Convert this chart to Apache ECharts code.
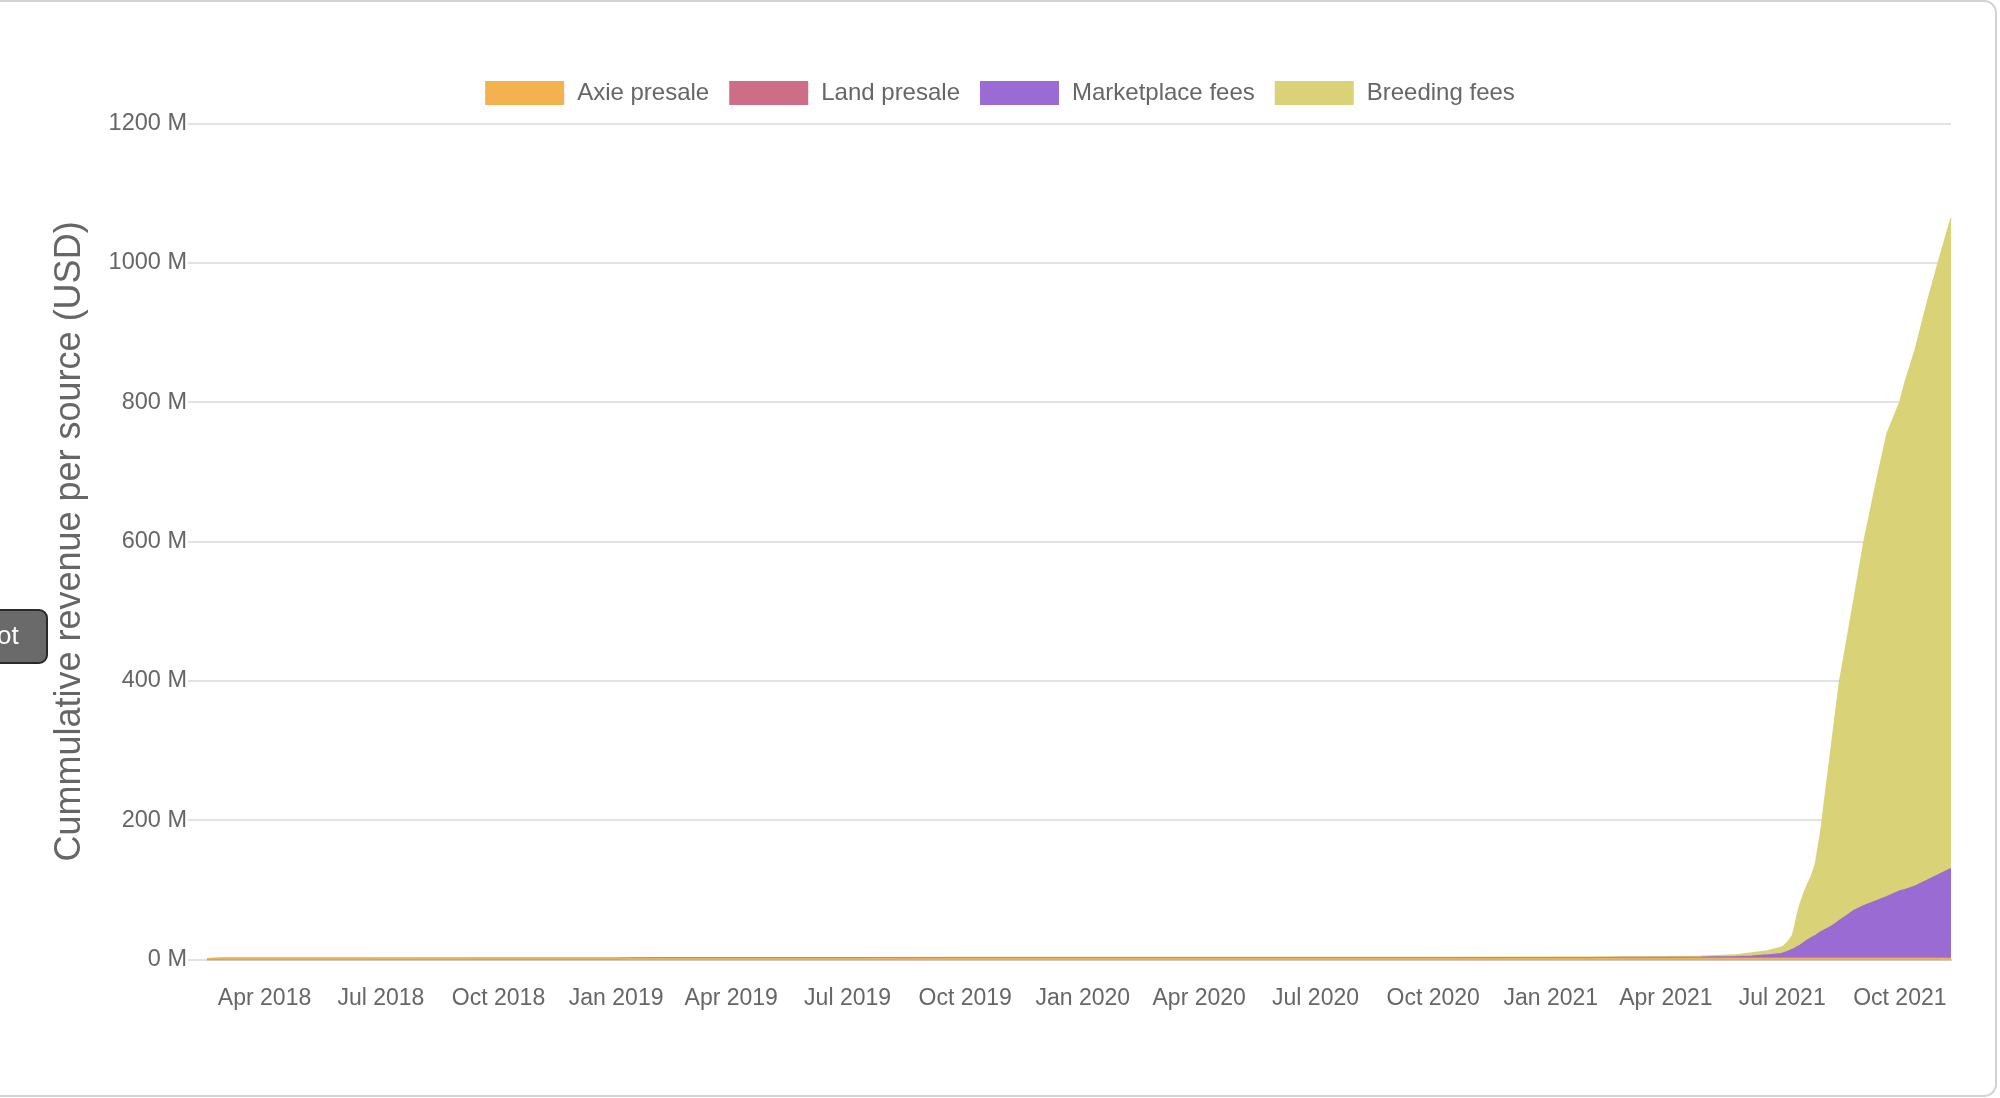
<!DOCTYPE html>
<html>
<head>
<meta charset="utf-8">
<script src="https://cdn.jsdelivr.net/npm/echarts@6/dist/echarts.min.js"></script>
<style>
html,body{margin:0;padding:0;background:#fff;overflow:hidden;}
#chart{width:2000px;height:1098px;}
</style>
</head>
<body>
<div id="chart"></div>
<script>
// ---- data (values in millions of USD, cumulative over time) ----
const dates = [
  '2018-02-15','2018-03-01','2018-04-01','2018-07-01','2018-10-01',
  '2019-01-01','2019-01-20','2019-02-15','2019-04-01','2019-07-01',
  '2019-10-01','2020-01-01','2020-04-01','2020-07-01','2020-10-01',
  '2021-01-01','2021-02-01','2021-03-01','2021-04-01','2021-04-29',
  '2021-05-25','2021-06-07','2021-06-19','2021-06-30','2021-07-02',
  '2021-07-05','2021-07-09','2021-07-11','2021-07-13','2021-07-15',
  '2021-07-18','2021-07-21','2021-07-24','2021-07-27','2021-07-31',
  '2021-08-04','2021-08-09','2021-08-13','2021-08-15','2021-08-20',
  '2021-08-26','2021-09-03','2021-09-13','2021-09-21','2021-10-01',
  '2021-10-05','2021-10-13','2021-10-23','2021-10-31','2021-11-10'
];
const axiePresale = [
  0.9,1.1,1.2,1.2,1.2, 1.2,1.2,1.2,1.2,1.2,
  1.2,1.2,1.2,1.2,1.2, 1.2,1.2,1.2,1.2,1.2,
  1.2,1.2,1.2,1.2,1.2, 1.2,1.2,1.2,1.2,1.2,
  1.2,1.2,1.2,1.2,1.2, 1.2,1.2,1.2,1.2,1.2,
  1.2,1.2,1.2,1.2,1.2, 1.2,1.2,1.2,1.2,1.2
];
const landPresale = [
  0,0,0,0,0, 0,0.5,0.8,0.8,0.8,
  0.8,0.8,0.8,0.8,0.8, 0.8,0.8,0.8,0.8,0.8,
  0.8,0.8,0.8,0.8,0.8, 0.8,0.8,0.8,0.8,0.8,
  0.8,0.8,0.8,0.8,0.8, 0.8,0.8,0.8,0.8,0.8,
  0.8,0.8,0.8,0.8,0.8, 0.8,0.8,0.8,0.8,0.8
];
const marketplaceFees = [
  0,0,0.01,0.03,0.05, 0.08,0.09,0.1,0.12,0.15,
  0.18,0.2,0.22,0.25,0.3, 0.35,0.4,0.45,0.5,0.8,
  1.5,2.5,4,6,7, 9,12,14,16,18,
  22,26,29,32,37, 41,46,51,54,60,
  68,75,82,88,96, 98,103,112,119,128
];
const breedingFees = [
  0,0,0.01,0.05,0.08, 0.1,0.11,0.12,0.15,0.2,
  0.25,0.3,0.35,0.4,0.45, 0.5,0.6,0.8,1.0,1.7,
  2.5,4.5,6,9,10, 13,20,33,48,59,
  71,80,89,103,142, 197,265,319,344,390,
  445,523,604,665,702, 728,770,833,879,934
];
const seriesNames = ['Axie presale','Land presale','Marketplace fees','Breeding fees'];
const seriesColors = ['#F3B24F','#CD6E86','#9A6BD2','#D9D276'];
const xTickDates = [
  '2018-04-01','2018-07-01','2018-10-01','2019-01-01','2019-04-01',
  '2019-07-01','2019-10-01','2020-01-01','2020-04-01','2020-07-01',
  '2020-10-01','2021-01-01','2021-04-01','2021-07-01','2021-10-01'
];
const xRange = ['2018-02-15','2021-11-10'];
const yMin = 0, yMax = 1200, yStep = 200;
const monthNames = ['Jan','Feb','Mar','Apr','May','Jun','Jul','Aug','Sep','Oct','Nov','Dec'];

function ts(s){ const p = s.split('-').map(Number); return Date.UTC(p[0], p[1]-1, p[2]); }
const FONT = '"Liberation Sans", Arial, Helvetica, sans-serif';
const TEXT = '#666666';

// stacked table: each layer sits on the layers below it
const allValues = [axiePresale, landPresale, marketplaceFees, breedingFees];
const stackedTable = allValues.map((arr, k) =>
  dates.map((d, i) => {
    let s = 0;
    for (let j = 0; j <= k; j++) s += allValues[j][i];
    return [ts(d), +s.toFixed(3)];
  })
);

const series = seriesNames.map((name, k) => ({
  name: name,
  type: 'line',
  z: 10 - k,
  symbol: 'none',
  showSymbol: false,
  smooth: false,
  lineStyle: { width: 1.5, color: seriesColors[k] },
  itemStyle: { color: seriesColors[k] },
  areaStyle: { color: seriesColors[k], opacity: 1 },
  emphasis: { disabled: true },
  data: stackedTable[k]
}));

const chart = echarts.init(document.getElementById('chart'), null, { renderer: 'canvas' });
chart.setOption({
  animation: false,
  backgroundColor: '#ffffff',
  textStyle: { fontFamily: FONT },
  grid: { left: 207, right: 49, top: 123.7, bottom: 138.7, containLabel: false, outerBoundsMode: 'none' },
  legend: {
    data: seriesNames,
    top: 81, left: 'center',
    padding: 0,
    icon: 'rect',
    itemWidth: 79, itemHeight: 24, itemGap: 20,
    itemStyle: { borderWidth: 0 },
    textStyle: { fontSize: 24, color: TEXT, fontFamily: FONT, padding: [0, 0, 0, 8] }
  },
  xAxis: {
    type: 'value',
    min: ts(xRange[0]), max: ts(xRange[1]),
    scale: true,
    axisLine: { show: true, lineStyle: { color: '#c8c8c8', width: 2 } },
    axisTick: { show: false },
    splitLine: { show: false },
    axisLabel: {
      customValues: xTickDates.map(ts),
      hideOverlap: false,
      fontSize: 23, color: TEXT, fontFamily: FONT, margin: 28,
      formatter: function (v) { const d = new Date(Number(v)); return monthNames[d.getUTCMonth()] + ' ' + d.getUTCFullYear(); }
    }
  },
  yAxis: {
    type: 'value',
    min: yMin, max: yMax, interval: yStep,
    name: 'Cummulative revenue per source (USD)',
    nameLocation: 'middle',
    nameGap: 119,
    nameTextStyle: { fontSize: 36, color: TEXT, fontFamily: FONT },
    axisLine: { show: false },
    axisTick: { show: true, length: 19, lineStyle: { color: '#e2e2e2', width: 2 } },
    splitLine: { show: true, lineStyle: { color: '#e2e2e2', width: 2 } },
    axisLabel: { fontSize: 23.5, color: TEXT, fontFamily: FONT, margin: 20, padding: [4, 0, 0, 0], formatter: v => v + ' M' }
  },
  graphic: [
    { type: 'rect', silent: true, z: -10,
      shape: { x: -20, y: 1, width: 2016, height: 1095, r: 12 },
      style: { fill: 'none', stroke: '#cfd3d8', lineWidth: 2 } },
    { type: 'rect', silent: true, z: 10,
      shape: { x: -14, y: 610, width: 61, height: 53, r: 8 },
      style: { fill: '#6a6a6a', stroke: '#2a2a2a', lineWidth: 2 } },
    { type: 'text', silent: true, z: 11, x: -3, y: 637,
      style: { text: 'ot', fill: '#ffffff', fontSize: 26, fontFamily: FONT, verticalAlign: 'middle', align: 'left' } }
  ],
  series: series
});
</script>
</body>
</html>
